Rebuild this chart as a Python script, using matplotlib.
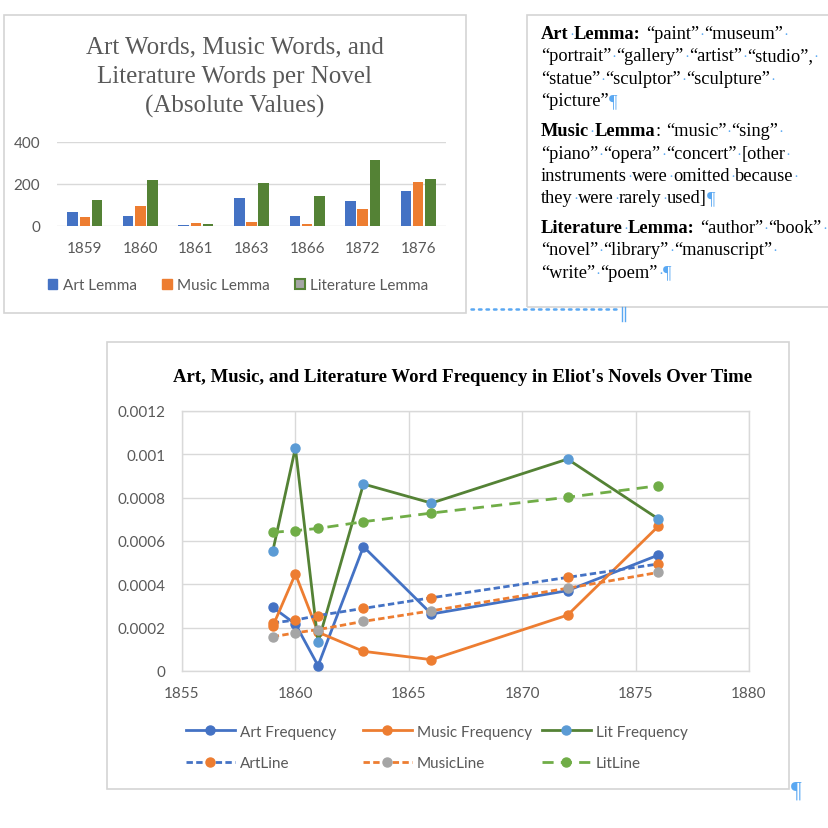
import matplotlib
matplotlib.use("Agg")
import matplotlib.pyplot as plt
from matplotlib.patches import Rectangle, Patch
from matplotlib.lines import Line2D
import numpy as np

# ---------------- data ----------------
novel_years = ["1859", "1860", "1861", "1863", "1866", "1872", "1876"]
art_lemma = [68, 49, 6, 133, 49, 120, 168]
music_lemma = [44, 97, 14, 20, 10, 81, 211]
lit_lemma = [125, 220, 11, 203, 144, 316, 224]

years = [1859, 1860, 1861, 1863, 1866, 1872, 1876]
art_freq = [0.000294, 0.000217, 0.0000245, 0.000574, 0.000263, 0.000371, 0.000535]
music_freq = [0.000206, 0.000448, 0.000179, 0.0000908, 0.0000523, 0.000258, 0.000668]
lit_freq = [0.000552, 0.00103, 0.000132, 0.000863, 0.000775, 0.000978, 0.000702]
art_line = [0.000222, 0.000235, 0.000256, 0.000289, 0.000338, 0.000432, 0.000494]
music_line = [0.000158, 0.000176, 0.000191, 0.000229, 0.000278, 0.000382, 0.000455]
lit_line = [0.00064, 0.000648, 0.000658, 0.000689, 0.000729, 0.000802, 0.000855]

yticks_freq = [0, 0.0002, 0.0004, 0.0006, 0.0008, 0.001, 0.0012]
xticks_freq = [1855, 1860, 1865, 1870, 1875, 1880]

bar_title = ["Art Words, Music Words, and", "Literature Words per Novel", "(Absolute Values)"]
line_title = "Art, Music, and Literature Word Frequency in Eliot's Novels Over Time"

paragraphs = [
    ["*Art·Lemma:* “paint”·“museum”·",
     "“portrait”·“gallery”·“artist”·“studio”,·",
     "“statue”·“sculptor”·“sculpture”·",
     "“picture”¶"],
    ["*Music·Lemma*: “music”·“sing”·",
     "“piano”·“opera”·“concert”·[other·",
     "instruments·were·omitted·because·",
     "they·were·rarely·used]¶"],
    ["*Literature·Lemma:* “author”·“book”·",
     "“novel”·“library”·“manuscript”·",
     "“write”·“poem”·¶"],
]

# ---------------- style ----------------
BLUE = "#4472C4"
ORANGE = "#ED7D31"
GREEN = "#548235"
LGREEN = "#70AD47"
LBLUE = "#5B9BD5"
GRAY = "#A5A5A5"
TXT = "#595959"
GRID = "#D9D9D9"
MARK = "#5AA8F2"
SANS = ["Lato", "DejaVu Sans"]
SERIF = ["Liberation Serif", "DejaVu Serif"]
FS = 11

W = H = 829
fig = plt.figure(figsize=(8.29, 8.29), dpi=100)
fig.patch.set_facecolor("white")


def fx(p):
    return p / W


def fy(p):
    return 1 - p / H


def rect(l, t, r, b):
    return [fx(l), fy(b), fx(r) - fx(l), fy(t) - fy(b)]


def box(l, t, r, b, color="#D4D4D4"):
    fig.add_artist(Rectangle((fx(l), fy(b)), fx(r) - fx(l), fy(t) - fy(b),
                             transform=fig.transFigure, fill=False,
                             edgecolor=color, lw=1.2, zorder=0))


# frames
box(4, 16, 466, 314)
box(527, 16, 835, 308)
box(107, 343, 789, 790)

# dotted anchor line + pilcrow stems
fig.add_artist(Line2D([fx(471), fx(621)], [fy(309.5), fy(309.5)], transform=fig.transFigure,
                      color=MARK, lw=1.8, linestyle=(0, (1, 2.0)), solid_capstyle="round",
                      dash_capstyle="round"))
for xx in (622, 625):
    fig.add_artist(Line2D([fx(xx), fx(xx)], [fy(308), fy(322)], transform=fig.transFigure,
                          color=MARK, lw=1.0))

# ---------------- bar chart ----------------
for i, line in enumerate(bar_title):
    fig.text(fx(235), fy(53 + 30 * i), line, ha="center", va="baseline",
             family=SERIF, fontsize=18, color=TXT)

axb = fig.add_axes(rect(57, 143, 446, 227))
x = np.arange(len(novel_years))
bw = 0.19
off = 0.22
axb.bar(x - off, art_lemma, bw, color=BLUE, zorder=3, label="Art Lemma")
axb.bar(x, music_lemma, bw, color=ORANGE, zorder=3, label="Music Lemma")
axb.bar(x + off, lit_lemma, bw, color=GREEN, zorder=3, label="Literature Lemma")
axb.set_xlim(-0.5, len(novel_years) - 0.5)
axb.set_ylim(0, 400)
axb.set_yticks([0, 200, 400])
axb.set_xticks(x)
axb.set_xticklabels(novel_years)
axb.grid(axis="y", color=GRID, lw=1.0, zorder=0)
for s in axb.spines.values():
    s.set_visible(False)
axb.tick_params(length=0, labelsize=FS, labelcolor=TXT)
axb.tick_params(axis="y", pad=12)
axb.tick_params(axis="x", pad=10.5)
for lab in axb.get_xticklabels() + axb.get_yticklabels():
    lab.set_family(SANS)

bh = [Patch(facecolor=BLUE, edgecolor=BLUE),
      Patch(facecolor=ORANGE, edgecolor=ORANGE),
      Patch(facecolor=GRAY, edgecolor=GREEN, lw=1.5)]
fig.legend(bh, ["Art Lemma", "Music Lemma", "Literature Lemma"], ncol=3,
           loc="center left", bbox_to_anchor=(fx(48), fy(286)), bbox_transform=fig.transFigure,
           frameon=False, borderpad=0, borderaxespad=0, handlelength=0.62, handleheight=0.62,
           handletextpad=0.36, columnspacing=1.65, prop={"family": SANS, "size": FS},
           labelcolor=TXT)

# ---------------- text box ----------------
renderer = fig.canvas.get_renderer()
TS = 13.2
sw = 0.25 * TS * 100 / 72.0


def draw_line(x0, yb, s):
    xcur = x0
    bold = False
    buf = ""

    def flush(buf, xcur, bold):
        if not buf:
            return xcur
        t = fig.text(fx(xcur), fy(yb), buf, ha="left", va="baseline", family=SERIF,
                     fontsize=TS, color="black", fontweight="bold" if bold else "normal")
        return xcur + t.get_window_extent(renderer).width + 0.6

    for ch in s:
        if ch == "*":
            xcur = flush(buf, xcur, bold)
            buf = ""
            bold = not bold
        elif ch == "·":
            xcur = flush(buf, xcur, bold)
            buf = ""
            fig.text(fx(xcur + sw / 2), fy(yb), "·", ha="center", va="baseline",
                     family=SERIF, fontsize=TS * 0.8, color=MARK)
            xcur += sw
        elif ch == " ":
            xcur = flush(buf, xcur, bold)
            buf = ""
            xcur += sw
        elif ch == "¶":
            xcur = flush(buf, xcur, bold)
            buf = ""
            fig.text(fx(xcur), fy(yb + 1), "¶", ha="left", va="baseline",
                     family=SERIF, fontsize=TS, color=MARK)
        else:
            buf += ch
    flush(buf, xcur, bold)


para_base = [39, 136.5, 233]
for p, base in zip(paragraphs, para_base):
    for j, ln in enumerate(p):
        draw_line(541, base + 22.3 * j, ln)

# ---------------- line chart ----------------
fig.text(fx(463), fy(382), line_title, ha="center", va="baseline", family=SERIF,
         fontsize=13.5, fontweight="bold", color="black")

axl = fig.add_axes(rect(182, 412, 749, 672))
LW = 2.0
MS = 6.5
h_art, = axl.plot(years, art_freq, color=BLUE, lw=LW, marker="o", ms=MS, mfc=BLUE, mec=BLUE, zorder=3)
h_mus, = axl.plot(years, music_freq, color=ORANGE, lw=LW, marker="o", ms=MS, mfc=ORANGE, mec=ORANGE, zorder=3)
h_lit, = axl.plot(years, lit_freq, color=GREEN, lw=LW, marker="o", ms=MS, mfc=LBLUE, mec=LBLUE, zorder=3)
h_artl, = axl.plot(years, art_line, color=BLUE, lw=LW, marker="o", ms=MS, mfc=ORANGE, mec=ORANGE,
                   dashes=(2.3, 1.2), zorder=4)
h_musl, = axl.plot(years, music_line, color=ORANGE, lw=LW, marker="o", ms=MS, mfc=GRAY, mec=GRAY,
                   dashes=(2.3, 1.2), zorder=4)
h_litl, = axl.plot(years, lit_line, color=LGREEN, lw=LW, marker="o", ms=MS, mfc=LGREEN, mec=LGREEN,
                   dashes=(4.0, 2.6), zorder=4)

axl.set_xlim(1855, 1880)
axl.set_ylim(0, 0.0012)
axl.set_xticks(xticks_freq)
axl.set_yticks(yticks_freq)
axl.set_yticklabels(["%g" % v for v in yticks_freq])
axl.grid(True, color=GRID, lw=1.0, zorder=0)
for s in axl.spines.values():
    s.set_color(GRID)
    s.set_linewidth(1.0)
axl.tick_params(length=0, labelsize=FS, labelcolor=TXT)
axl.tick_params(axis="y", pad=12)
axl.tick_params(axis="x", pad=10.5)
for lab in axl.get_xticklabels() + axl.get_yticklabels():
    lab.set_family(SANS)

leg_cols = [([h_art, h_artl], ["Art Frequency", "ArtLine"], 186),
            ([h_mus, h_musl], ["Music Frequency", "MusicLine"], 363),
            ([h_lit, h_litl], ["Lit Frequency", "LitLine"], 542)]
for hs, ls, xl in leg_cols:
    lg = fig.legend(hs, ls, ncol=1, loc="center left", bbox_to_anchor=(fx(xl), fy(748.5)),
                    bbox_transform=fig.transFigure, frameon=False, borderpad=0, borderaxespad=0,
                    handlelength=3.2, handletextpad=0.32, labelspacing=1.15,
                    prop={"family": SANS, "size": FS}, labelcolor=TXT, numpoints=1)

fig.text(fx(791), fy(797), "¶", ha="left", va="baseline", family=SERIF, fontsize=17, color=MARK)

fig.savefig("out.png", dpi=100, facecolor="white")
